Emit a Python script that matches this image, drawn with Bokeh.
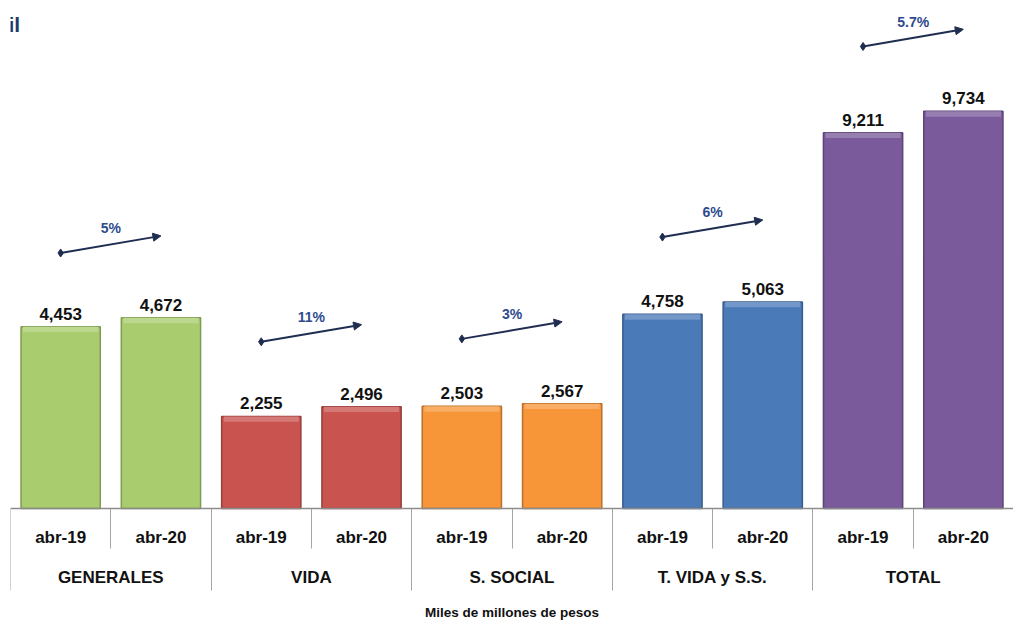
from bokeh.plotting import figure
from bokeh.models import (FactorRange, Range1d, CategoricalAxis, LinearAxis, FixedTicker,
                          ColumnDataSource, Arrow, NormalHead, Label)
from bokeh.core.properties import value
from bokeh.embed import file_html
from bokeh.resources import INLINE

# ---- data -------------------------------------------------------------
groups = ["GENERALES", "VIDA", "S. SOCIAL", "T. VIDA y S.S.", "TOTAL"]
periods = ["abr-19", "abr-20"]
values_19 = [4453, 2255, 2503, 4758, 9211]
values_20 = [4672, 2496, 2567, 5063, 9734]
growth = ["5%", "11%", "3%", "6%", "5.7%"]
colors = ["#A9CD6E", "#C8534F", "#F79639", "#4A7AB8", "#7A5A9A"]
unit_label = "Miles de millones de pesos"
title_fragment = "il"

FONT = "Liberation Sans"
NAVY = "#1F2D50"
PCT_COLOR = "#2E4B8E"


def mix(hex_color, other, t):
    a = [int(hex_color[i:i + 2], 16) for i in (1, 3, 5)]
    b = [int(other[i:i + 2], 16) for i in (1, 3, 5)]
    c = [round(x + (y - x) * t) for x, y in zip(a, b)]
    return "#%02x%02x%02x" % tuple(c)


factors = [(g, p) for g in groups for p in periods]
vals = []
cols = []
for i, g in enumerate(groups):
    vals += [values_19[i], values_20[i]]
    cols += [colors[i], colors[i]]

labels = [f"{v:,}" for v in vals]
src = ColumnDataSource(dict(
    x=factors, top=vals, color=cols, label=labels,
    edge=[mix(c, "#000000", 0.25) for c in cols],
    light=[mix(c, "#ffffff", 0.22) for c in cols],
    hl_bottom=[v - 130 for v in vals],
))

p = figure(
    x_range=FactorRange(*factors, group_padding=0, factor_padding=0, range_padding=0),
    y_range=Range1d(-2770, 12451),
    width=1013, height=621,
    output_backend="svg", toolbar_location=None,
    x_axis_location=None, y_axis_location=None,
    min_border_left=10, min_border_right=0, min_border_top=0, min_border_bottom=0,
)
p.outline_line_color = None
p.grid.visible = False
p.background_fill_color = "white"

# bars
p.vbar(x="x", top="top", width=0.79, source=src, fill_color="color",
       line_color="edge", line_width=1.5)
p.vbar(x="x", top="top", bottom="hl_bottom", width=0.75, source=src,
       fill_color="light", line_color=None)

# value labels
p.text(x="x", y="top", text="label", source=src, text_align="center",
       text_baseline="bottom", y_offset=-7, text_font=value(FONT),
       text_font_size="17px", text_font_style="bold", text_color="#111111")

# growth arrows
x0 = [(g, periods[0]) for g in groups]
x1 = [(g, periods[1]) for g in groups]
xm = [(g, periods[0], 0.5) for g in groups]
mids = [max(a, b) + 1800 for a, b in zip(values_19, values_20)]
asrc = ColumnDataSource(dict(
    x0=x0, x1=x1, xm=xm,
    y0=[m - 210 for m in mids], y1=[m + 210 for m in mids],
    ym=[m + 400 for m in mids], txt=growth,
))
p.add_layout(Arrow(end=NormalHead(size=8, fill_color=NAVY, line_color=NAVY),
                   x_start="x0", y_start="y0", x_end="x1", y_end="y1",
                   source=asrc, line_color=NAVY, line_width=2))
p.scatter(x="x0", y="y0", source=asrc, marker="diamond", size=8,
          fill_color=NAVY, line_color=NAVY)
p.text(x="xm", y="ym", text="txt", source=asrc, text_align="center",
       text_baseline="middle", text_font=value(FONT), text_font_size="14px",
       text_font_style="bold", text_color=PCT_COLOR)

# table-like separators under the bars
n = len(factors)
sub_ticks = [i for i in range(n + 1) if i % len(periods)]
grp_ticks = [i for i in range(n + 1) if i % len(periods) == 0]
for ticks, length in ((sub_ticks, 40), (grp_ticks, 82)):
    ax = LinearAxis(fixed_location=0, ticker=FixedTicker(ticks=ticks),
                    major_tick_out=length, major_tick_in=0,
                    major_tick_line_color="#A6A6A6", major_tick_line_width=1,
                    minor_tick_line_color=None, axis_line_color=None,
                    major_label_text_color=None)
    p.add_layout(ax, "below")

# group labels
gax = CategoricalAxis(fixed_location=0, axis_line_color=None,
                      major_tick_line_color=None, major_tick_out=0, major_tick_in=0,
                      major_label_text_color=None,
                      major_label_text_font=FONT, major_label_text_font_size="17px",
                      major_label_standoff=60, separator_line_color=None,
                      group_text_font=FONT, group_text_font_size="17px",
                      group_text_font_style="bold", group_text_color="#111111")
p.add_layout(gax, "below")

# main axis with period labels and unit label
main_ax = CategoricalAxis(fixed_location=0, axis_line_color="#8C8C8C", axis_line_width=1.5,
                          major_tick_line_color=None, major_tick_out=0, major_tick_in=0,
                          major_label_standoff=20, major_label_text_font=FONT,
                          major_label_text_font_size="17px",
                          major_label_text_font_style="bold",
                          major_label_text_color="#111111",
                          group_text_color=None, group_text_font=FONT,
                          group_text_font_size="17px", separator_line_color=None,
                          axis_label=unit_label, axis_label_text_font=FONT,
                          axis_label_text_font_size="13.5px",
                          axis_label_text_font_style="bold",
                          axis_label_text_color="#111111",
                          axis_label_standoff=54)
p.add_layout(main_ax, "below")

# cropped title fragment at the top-left
p.add_layout(Label(x=-0.02, y=11860, text=title_fragment, text_font=FONT,
                   text_font_size="21px", text_font_style="bold",
                   text_color="#1F3864", text_baseline="middle"))

open("out.html", "w").write(file_html(p, INLINE))
